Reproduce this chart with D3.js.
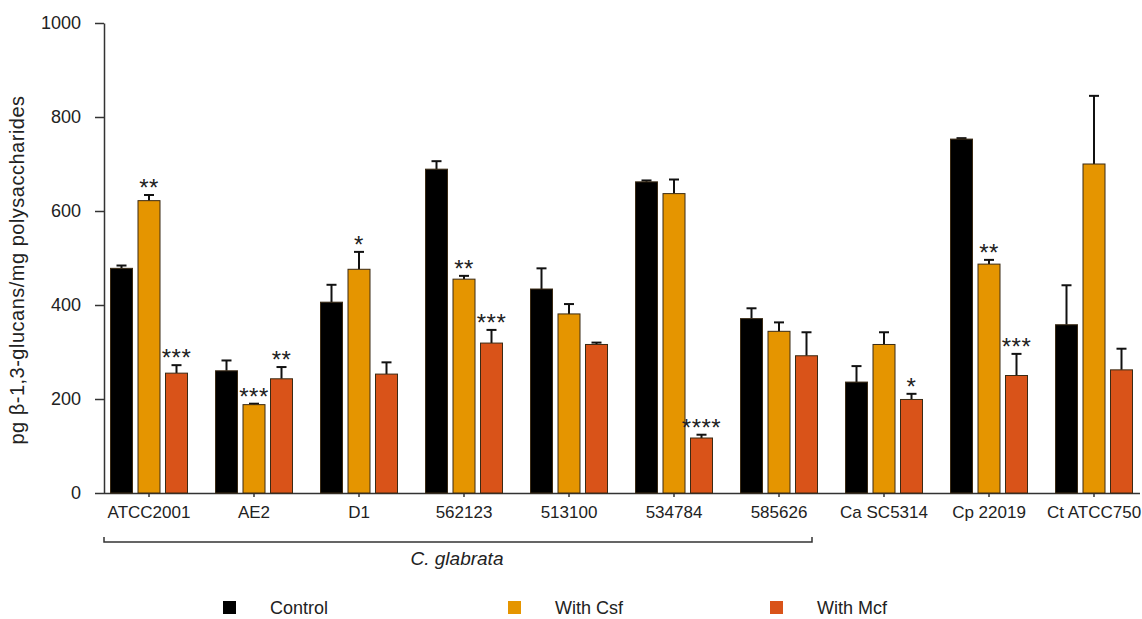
<!DOCTYPE html>
<html>
<head>
<meta charset="utf-8">
<script src="https://cdn.jsdelivr.net/npm/d3@7"></script>
<style>
  body { margin: 0; background: #fff; }
  text { font-family: "Liberation Sans", Arial, sans-serif; fill: #222; }
</style>
</head>
<body>
<script>
var width = 1142
var height = 619

// strains on the x axis
var groups = ["ATCC2001", "AE2", "D1", "562123", "513100", "534784", "585626", "Ca SC5314", "Cp 22019", "Ct ATCC750"]
var series = ["Control", "With Csf", "With Mcf"]
var colors = ["#000000", "#E59500", "#D95319"]

// means and error (upper bar)
var controlMean = [478, 260, 406, 689, 434, 662, 371, 236, 753, 358]
var controlErr  = [6, 22, 37, 17, 44, 3, 22, 34, 2, 84]
var csfMean     = [622, 188, 476, 455, 381, 637, 344, 316, 487, 700]
var csfErr      = [12, 2, 37, 7, 21, 30, 19, 26, 9, 145]
var mcfMean     = [255, 243, 253, 319, 316, 117, 292, 199, 250, 262]
var mcfErr      = [17, 25, 25, 28, 4, 7, 50, 12, 46, 45]

// significance marks
var controlStars = ["", "", "", "", "", "", "", "", "", ""]
var csfStars     = ["**", "***", "*", "**", "", "", "", "", "**", ""]
var mcfStars     = ["***", "**", "", "***", "", "****", "", "*", "***", ""]

var yTicks = [0, 200, 400, 600, 800, 1000]
var bracketLabel = "C. glabrata"
var bracketTo = "585626"

var means = [controlMean, csfMean, mcfMean]
var errs = [controlErr, csfErr, mcfErr]
var stars = [controlStars, csfStars, mcfStars]

var rows = []
groups.forEach(function(g, i) {
	series.forEach(function(s, j) {
		rows.push({group: g, series: s, j: j, mean: means[j][i], err: errs[j][i], star: stars[j][i]})
	})
})

var svg = d3.select("body")
	.append("svg")
	.attr("width", width)
	.attr("height", height)

var x0 = d3.scaleBand().domain(groups).range([96.5, 1146.5])
var x1 = d3.scaleBand().domain(series).range([-38.5, 38.5]).paddingInner(0.2)
var y = d3.scaleLinear().domain([0, 1000]).range([493, 23])

// y axis
var yAxis = svg.append("g")
	.attr("transform", "translate(104,0)")
	.call(d3.axisLeft(y).tickValues(yTicks).tickFormat(d3.format("d")).tickSize(9).tickPadding(14).tickSizeOuter(0))
yAxis.select(".domain").attr("stroke", "#333").attr("stroke-width", 1.5)
yAxis.selectAll(".tick line").attr("stroke", "#333").attr("stroke-width", 1.5)
yAxis.selectAll(".tick text").style("font-size", "18px").attr("fill", "#222")

// x axis
var xAxis = svg.append("g")
	.attr("transform", "translate(0," + y(0) + ")")
	.call(d3.axisBottom(x0).tickSize(4).tickPadding(9).tickSizeOuter(0))
xAxis.select(".domain").attr("d", "M104,0.5H1140").attr("stroke", "#333").attr("stroke-width", 1.5)
xAxis.selectAll(".tick line").attr("stroke", "#333").attr("stroke-width", 1.5)
xAxis.selectAll(".tick text").style("font-size", "17px").attr("fill", "#222")

svg.append("text")
	.attr("transform", "translate(24,270) rotate(-90)")
	.attr("text-anchor", "middle")
	.style("font-size", "20px")
	.style("letter-spacing", "0.5px")
	.text("pg β-1,3-glucans/mg polysaccharides")

function cx(d) { return x0(d.group) + x0.bandwidth() / 2 + x1(d.series) + x1.bandwidth() / 2 }

// error bars first so bars cover the lower part
var eb = svg.append("g").selectAll("g")
	.data(rows)
	.enter()
	.append("g")
	.attr("stroke", "#111")
	.attr("stroke-width", 2)
eb.append("line")
	.attr("x1", cx).attr("x2", cx)
	.attr("y1", function(d) { return y(d.mean) })
	.attr("y2", function(d) { return y(d.mean + d.err) })
eb.append("line")
	.attr("x1", function(d) { return cx(d) - 5 })
	.attr("x2", function(d) { return cx(d) + 5 })
	.attr("y1", function(d) { return y(d.mean + d.err) })
	.attr("y2", function(d) { return y(d.mean + d.err) })

svg.append("g").selectAll("rect")
	.data(rows)
	.enter()
	.append("rect")
	.attr("x", function(d) { return x0(d.group) + x0.bandwidth() / 2 + x1(d.series) })
	.attr("y", function(d) { return y(d.mean) })
	.attr("width", x1.bandwidth())
	.attr("height", function(d) { return y(0) - y(d.mean) })
	.attr("fill", function(d) { return colors[d.j] })
	.attr("stroke", "#3a2a14")
	.attr("stroke-width", 1)

svg.append("g").selectAll("text")
	.data(rows.filter(function(d) { return d.star }))
	.enter()
	.append("text")
	.attr("x", cx)
	.attr("y", function(d) { return y(d.mean + d.err) + 1 })
	.attr("text-anchor", "middle")
	.style("font-size", "24px")
	.style("letter-spacing", "0.5px")
	.text(function(d) { return d.star })

// bracket under the C. glabrata strains
var bx1 = 104, bx2 = x0(bracketTo) + x0.bandwidth() / 2 + 33
svg.append("path")
	.attr("d", "M" + bx1 + ",537V542H" + bx2 + "V537")
	.attr("fill", "none")
	.attr("stroke", "#333")
	.attr("stroke-width", 1.5)
svg.append("text")
	.attr("x", 457)
	.attr("y", 565)
	.attr("text-anchor", "middle")
	.style("font-size", "19px")
	.style("font-style", "italic")
	.text(bracketLabel)

// legend
var legendX = [223, 508, 770]
var leg = svg.append("g").selectAll("g")
	.data(series)
	.enter()
	.append("g")
	.attr("transform", function(d, i) { return "translate(" + legendX[i] + ",601)" })
leg.append("rect")
	.attr("width", 13)
	.attr("height", 13)
	.attr("fill", function(d, i) { return colors[i] })
leg.append("text")
	.attr("x", 47)
	.attr("y", 13)
	.style("font-size", "18px")
	.text(function(d) { return d })
</script>
</body>
</html>
